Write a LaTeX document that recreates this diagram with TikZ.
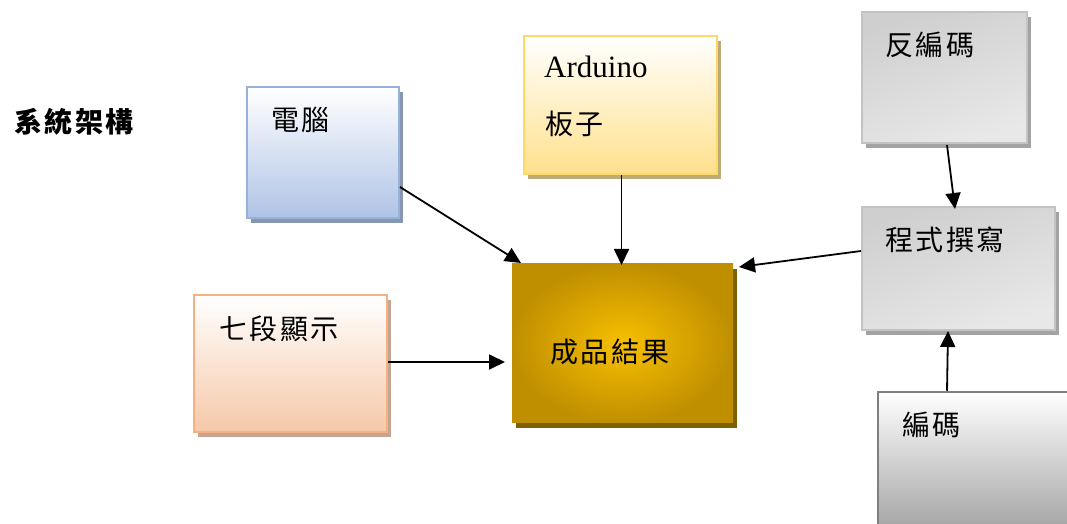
\documentclass[tikz,border=0pt]{standalone}
\usepackage{fontspec}
\setmainfont{Liberation Serif}
\newfontfamily\cjk[LetterSpace=9]{Noto Sans CJK TC}
\usetikzlibrary{shadows,arrows.meta}
\definecolor{pcbd}{HTML}{95B3D7}
\definecolor{pcbot}{HTML}{B0C3E6}
\definecolor{pcsh}{HTML}{8797B2}
\definecolor{ardbd}{HTML}{FFD966}
\definecolor{ardbot}{HTML}{FFE08C}
\definecolor{ardsh}{HTML}{BDAA78}
\definecolor{resin}{HTML}{F8C000}
\definecolor{resout}{HTML}{BF8F00}
\definecolor{ressh}{HTML}{7F6000}
\definecolor{grbd}{HTML}{C3C3C3}
\definecolor{grtop}{HTML}{CFCFCF}
\definecolor{grmid}{HTML}{F0F0F0}
\definecolor{grbot}{HTML}{E8E8E8}
\definecolor{grsh}{HTML}{A3A3A3}
\definecolor{encbd}{HTML}{7F7F7F}
\definecolor{encbot}{HTML}{9C9C9C}
\definecolor{segbd}{HTML}{F4B183}
\definecolor{segbot}{HTML}{F6C8A8}
\definecolor{segsh}{HTML}{C4A492}
\begin{document}
\begin{tikzpicture}[x=1pt,y=1pt,
  box/.style={draw, line width=2pt, inner sep=0pt},
  lbl/.style={font=\cjk\fontsize{28}{32}\selectfont, anchor=west, inner sep=0pt},
  arr/.style={-{Triangle[length=16pt,width=15pt]}, line width=1.8pt},
  shd/.style={drop shadow={shadow xshift=4pt,shadow yshift=-5pt,fill=#1,opacity=1}}]
\useasboundingbox (0,0) rectangle (1067,524);
\clip (0,0) rectangle (1067,524);

% boxes
\node[box, draw=pcbd, minimum width=152pt, minimum height=131pt,
  top color=white, bottom color=pcbot, shd=pcsh] (pc) at (323,371.5) {};
\node[box, draw=ardbd, minimum width=193pt, minimum height=138pt,
  top color=white, bottom color=ardbot, shd=ardsh] (ard) at (620.5,419) {};
\node[box, draw=none, minimum width=221pt, minimum height=159pt,
  shading=radial, inner color=resin, outer color=resout, shd=ressh] (res) at (622.5,180.5) {};
\node[box, draw=grbd, minimum width=165pt, minimum height=131pt,
  top color=grtop, middle color=grmid, bottom color=grbot, shading angle=20, shd=grsh] (dec) at (944.5,446.5) {};
\node[box, draw=grbd, minimum width=193pt, minimum height=123pt,
  top color=grtop, middle color=grmid, bottom color=grbot, shading angle=20, shd=grsh] (prog) at (958.5,255.5) {};
\node[box, draw=encbd, line width=2.5pt, minimum width=200pt, minimum height=150pt,
  top color=white, bottom color=encbot] (enc) at (978,57) {};
\node[box, draw=segbd, minimum width=193pt, minimum height=137pt,
  top color=white, bottom color=segbot, shd=segsh] (seg) at (290.5,160.5) {};

% texts
\node[font=\cjk\bfseries\fontsize{28}{32}\selectfont, anchor=west, inner sep=0pt] (title) at (14,402) {系統架構};
\node[lbl] (pct) at (271,404) {電腦};
\node[font=\fontsize{31}{36}\selectfont, anchor=base west, inner sep=0pt] (ardt) at (544,446) {Arduino};
\node[lbl] (ardt2) at (545,400) {板子};
\node[lbl] (rest) at (550,172) {成品結果};
\node[lbl] (dect) at (885,479) {反編碼};
\node[lbl] (progt) at (885,284) {程式撰寫};
\node[lbl] (enct) at (902,99) {編碼};
\node[lbl] (segt) at (219,195) {七段顯示};

% connectors
\draw[arr] ([yshift=-34.5pt]pc.east) -- ([xshift=10pt,yshift=0pt]res.north west);
\draw[arr] ([xshift=1pt]ard.south) -- ([xshift=-1pt,yshift=-2pt]res.north);
\draw[arr] ([yshift=17.5pt]prog.west) -- ([xshift=5pt,yshift=-4pt]res.north east);
\draw[arr] ([yshift=1.5pt]seg.east) -- ([xshift=-6pt,yshift=-18.5pt]res.west);
\draw[arr] ([xshift=2.5pt,yshift=-1pt]dec.south) -- ([xshift=-3.5pt,yshift=-3pt]prog.north);
\draw[arr] ([xshift=-31pt]enc.north) -- ([xshift=-10.5pt]prog.south);
\end{tikzpicture}
\end{document}
